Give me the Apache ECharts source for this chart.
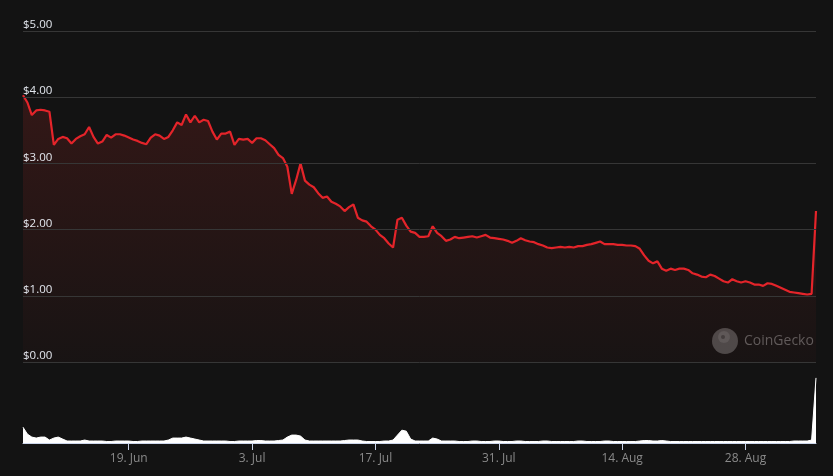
<!DOCTYPE html>
<html>
<head>
<meta charset="utf-8">
<script src="https://cdn.jsdelivr.net/npm/echarts@6/dist/echarts.min.js"></script>
<style>
html,body{margin:0;padding:0;background:#131313;}
#chart{width:833px;height:476px;}
</style>
</head>
<body>
<div id="chart"></div>
<script>
// Series start date and 12-hour step between samples
var startDate = '2023-06-07T00:00:00Z';
var stepHours = 12;

// Price in USD, one sample every 12 hours
var prices = [
  4.03, 3.92, 3.73, 3.80, 3.81, 3.80, 3.78, 3.28, 3.37, 3.40,
  3.38, 3.30, 3.37, 3.41, 3.44, 3.55, 3.40, 3.30, 3.33, 3.43,
  3.39, 3.44, 3.44, 3.42, 3.39, 3.36, 3.34, 3.31, 3.29, 3.39,
  3.44, 3.42, 3.37, 3.40, 3.50, 3.62, 3.58, 3.74, 3.62, 3.72,
  3.62, 3.66, 3.64, 3.48, 3.36, 3.45, 3.45, 3.48, 3.28, 3.37,
  3.36, 3.37, 3.31, 3.38, 3.38, 3.35, 3.29, 3.23, 3.13, 3.08,
  2.95, 2.54, 2.75, 3.00, 2.74, 2.68, 2.64, 2.55, 2.48, 2.50,
  2.42, 2.39, 2.35, 2.28, 2.34, 2.38, 2.18, 2.14, 2.12, 2.05,
  2.00, 1.92, 1.87, 1.79, 1.73, 2.15, 2.18, 2.06, 1.97, 1.95,
  1.89, 1.89, 1.90, 2.05, 1.95, 1.90, 1.83, 1.85, 1.89, 1.87,
  1.88, 1.89, 1.90, 1.88, 1.90, 1.92, 1.88, 1.87, 1.86, 1.85,
  1.83, 1.80, 1.83, 1.87, 1.84, 1.82, 1.81, 1.78, 1.76, 1.73,
  1.72, 1.73, 1.74, 1.73, 1.74, 1.73, 1.75, 1.75, 1.77, 1.78,
  1.80, 1.82, 1.78, 1.78, 1.78, 1.77, 1.77, 1.76, 1.76, 1.75,
  1.71, 1.61, 1.53, 1.49, 1.52, 1.41, 1.38, 1.41, 1.39, 1.41,
  1.41, 1.39, 1.34, 1.32, 1.29, 1.28, 1.32, 1.30, 1.26, 1.22,
  1.20, 1.25, 1.22, 1.20, 1.22, 1.20, 1.17, 1.17, 1.15, 1.19,
  1.18, 1.15, 1.12, 1.09, 1.06, 1.05, 1.04, 1.03, 1.02, 1.03,
  2.28
];

// Trading volume (relative units), same 12-hour samples
var volumes = [
  16, 9, 6, 5, 6, 6, 3, 5, 6, 4,
  2, 2, 2, 2, 3, 2, 2, 2, 2, 1.5,
  1.5, 2, 2, 2, 2, 1.5, 1.5, 2, 2, 2,
  2, 2, 2, 3, 5, 5, 5, 6, 5, 4,
  3, 2, 2, 2, 2, 2, 2, 1.5, 1.5, 2,
  2, 2, 2, 2.5, 2.5, 2, 2, 2, 2.5, 3,
  6, 8, 8, 7, 3, 2, 2, 2, 2, 2,
  2, 2, 2, 2.5, 3, 3, 3, 2, 1.5, 1.5,
  1.5, 1.5, 2, 2, 3, 8, 13, 12, 4, 2,
  2, 2, 2, 5, 4, 2, 2, 2, 2, 1.5,
  1.5, 1.5, 2, 2, 1.5, 1.5, 1.5, 2, 2, 1.5,
  1.5, 1.5, 2, 2, 1.5, 1.5, 1.5, 1.5, 2, 2,
  1.5, 1.5, 1.5, 1.5, 1.5, 1.5, 2, 2, 1.5, 1.5,
  1.5, 1.5, 2, 2, 1.5, 1.5, 1.5, 1.5, 1.5, 1.5,
  2, 2.5, 2.5, 2, 2, 2.5, 2, 1.5, 1.5, 1.5,
  1.5, 1.5, 1.5, 1.5, 1.5, 1.5, 1.5, 1.5, 1.5, 1.5,
  1.5, 1.5, 1.5, 1.5, 1.5, 1.5, 1.5, 1.5, 1.5, 1.5,
  1.5, 1.5, 1.5, 1.5, 1.5, 2, 2, 2, 2, 3,
  66
];

// Tick labels shown on the date axis
var tickLabels = ['19. Jun', '3. Jul', '17. Jul', '31. Jul', '14. Aug', '28. Aug'];

// Price axis tick values
var priceTicks = [0, 1, 2, 3, 4, 5];

var months = ['Jan','Feb','Mar','Apr','May','Jun','Jul','Aug','Sep','Oct','Nov','Dec'];
var t0 = new Date(startDate).getTime();
var categories = prices.map(function (_, i) {
  var d = new Date(t0 + i * stepHours * 3600 * 1000);
  var h = d.getUTCHours();
  return d.getUTCDate() + '. ' + months[d.getUTCMonth()] + (h === 0 ? '' : ' ' + h + 'h');
});
var tickSet = {};
tickLabels.forEach(function (l) { tickSet[l] = true; });
function isTick(idx, val) { return !!tickSet[val]; }

var chart = echarts.init(document.getElementById('chart'), null, {renderer: 'canvas'});
var fontFam = '"Open Sans", "Noto Sans", sans-serif';

chart.setOption({
  backgroundColor: '#131313',
  animation: false,
  grid: [
    {left: 23, right: 17, top: 31, bottom: 114},
    {left: 23, right: 17, top: 370, bottom: 33}
  ],
  xAxis: [
    {
      type: 'category', gridIndex: 0, data: categories, boundaryGap: false,
      show: false
    },
    {
      type: 'category', gridIndex: 1, data: categories, boundaryGap: false,
      axisLine: {show: true, lineStyle: {color: '#ccd6eb', width: 1}},
      axisTick: {show: true, interval: isTick, length: 7, lineStyle: {color: '#ccd6eb'}},
      axisLabel: {
        show: true, interval: isTick, color: '#8a8a8a', fontSize: 12,
        fontFamily: fontFam, margin: 10
      },
      splitLine: {show: false}
    }
  ],
  yAxis: [
    {
      type: 'value', gridIndex: 0, min: priceTicks[0], max: priceTicks[priceTicks.length - 1], interval: 1,
      axisLine: {show: false}, axisTick: {show: false},
      axisLabel: {
        inside: true, margin: 0, verticalAlign: 'bottom', color: '#e3e7ee',
        fontSize: 11.5, fontFamily: fontFam,
        formatter: function (v) { return '$' + v.toFixed(2); }
      },
      splitLine: {show: true, lineStyle: {color: '#363636', width: 1}},
      z: 5
    },
    {
      type: 'value', gridIndex: 1, min: 0, max: 74, show: false,
      splitLine: {show: false}
    }
  ],
  series: [
    {
      type: 'line', xAxisIndex: 0, yAxisIndex: 0, data: prices,
      showSymbol: false, symbol: 'none',
      lineStyle: {color: '#e4242a', width: 2.2},
      areaStyle: {
        color: new echarts.graphic.LinearGradient(0, 0, 0, 1, [
          {offset: 0, color: 'rgba(210,45,40,0.24)'},
          {offset: 1, color: 'rgba(210,45,40,0.04)'}
        ]),
        origin: 'start'
      },
      z: 3
    },
    {
      type: 'line', xAxisIndex: 1, yAxisIndex: 1, data: volumes,
      showSymbol: false, symbol: 'none',
      lineStyle: {color: '#ffffff', width: 1},
      areaStyle: {color: '#ffffff', opacity: 1}
    }
  ],
  graphic: [
    {
      type: 'group', left: 712, top: 328, z: 10,
      children: [
        {type: 'circle', shape: {cx: 13, cy: 13, r: 13}, style: {fill: '#4a4a4a'}},
        {type: 'circle', shape: {cx: 12, cy: 9, r: 6}, style: {fill: '#5a5a5a'}},
        {type: 'circle', shape: {cx: 11, cy: 9, r: 2}, style: {fill: '#3e3e3e'}},
        {type: 'text', x: 32, y: 6, style: {text: 'CoinGecko', fill: '#5c5c5c', fontSize: 14, fontFamily: fontFam}}
      ]
    }
  ]
});
</script>
</body>
</html>
